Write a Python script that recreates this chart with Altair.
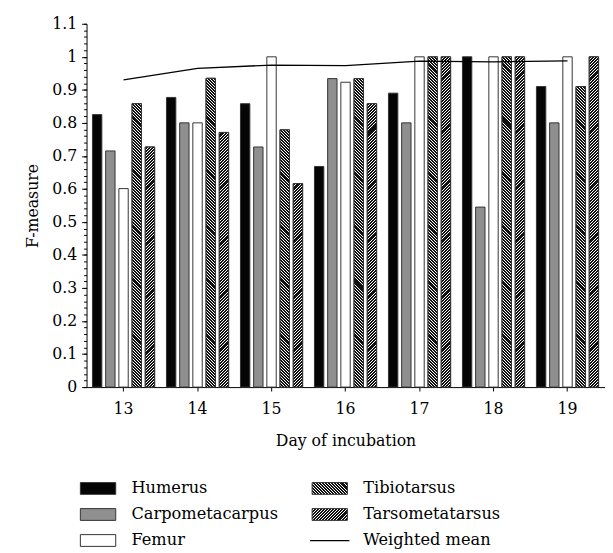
import math
import altair as alt
import pandas as pd

# ---------------- data ----------------
days = ["13", "14", "15", "16", "17", "18", "19"]
series = ["Humerus", "Carpometacarpus", "Femur", "Tibiotarsus", "Tarsometatarsus"]
humerus = [0.825, 0.877, 0.858, 0.668, 0.890, 1.000, 0.910]
carpometacarpus = [0.715, 0.800, 0.727, 0.934, 0.800, 0.545, 0.800]
femur = [0.601, 0.800, 1.000, 0.923, 1.000, 1.000, 1.000]
tibiotarsus = [0.858, 0.935, 0.779, 0.934, 1.000, 1.000, 0.910]
tarsometatarsus = [0.727, 0.771, 0.616, 0.858, 1.000, 1.000, 1.000]
weighted_mean = [0.930, 0.965, 0.975, 0.973, 0.987, 0.985, 0.988]
y_tick_values = [0, 0.1, 0.2, 0.3, 0.4, 0.5, 0.6, 0.7, 0.8, 0.9, 1.0, 1.1]
legend_names = ["Humerus", "Carpometacarpus", "Femur", "Tibiotarsus", "Tarsometatarsus", "Weighted mean"]
legend_col = [0, 0, 0, 1, 1, 1]
legend_row = [0, 1, 2, 0, 1, 2]

values_by_series = {
    "Humerus": humerus,
    "Carpometacarpus": carpometacarpus,
    "Femur": femur,
    "Tibiotarsus": tibiotarsus,
    "Tarsometatarsus": tarsometatarsus,
}
rows = []
for s in series:
    for d, v in zip(days, values_by_series[s]):
        rows.append({"day": d, "series": s, "value": v})
df = pd.DataFrame(rows)
mean_df = pd.DataFrame({"day": days, "mean": weighted_mean})
leg_df = pd.DataFrame({"name": legend_names, "col": legend_col, "row": legend_row})

# ---------------- layout / style ----------------
W, H = 527.5, 370
Y_MAX = 1.1
PX_PER_UNIT = H / Y_MAX
X_PAD_IN, X_PAD_OUT = 0.16, 0.08
XO_PAD_IN = 0.29
step_x = W / (len(days) - X_PAD_IN + 2 * X_PAD_OUT)
band_x = step_x * (1 - X_PAD_IN)
bar_w = band_x / (len(series) - XO_PAD_IN) * (1 - XO_PAD_IN)

FONT = "DejaVu Serif"
DARK = "#111111"
LIGHT = "#ffffff"
STROKE = "#333333"
PERIOD = 3.0
SEG_PX = 10 * PERIOD     # hatch drawn in short stacked pieces (keeps gradients small)
OVERLAP = 1.0

hatch_style = {"Tibiotarsus": ("back", 0.68), "Tarsometatarsus": ("fwd", 0.68)}


def hatch(w, h, frac, direction, phase):
    """Linear gradient with hard stops drawing 45-degree hatching over a w x h box."""
    L = w + h
    lam = L / (w * w + h * h)
    if direction == "back":  # '\'
        x1, y1, x2, y2 = 0, 1, lam * w, 1 - lam * h
    else:  # '/'
        x1, y1, x2, y2 = 0, 0, lam * w, lam * h
    stops = []
    m = math.floor(phase) - 1
    g_end = L / PERIOD + phase
    while m < g_end + 1:
        for a, b, col in ((m, m + frac, DARK), (m + frac, m + 1, LIGHT)):
            ta = max(0.0, (a - phase) * PERIOD)
            tb = min(L, (b - phase) * PERIOD)
            if tb > ta:
                stops.append({"offset": round(ta / L, 5), "color": col})
                stops.append({"offset": round(tb / L, 5), "color": col})
        m += 1
    return {"gradient": "linear", "x1": x1, "y1": y1, "x2": x2, "y2": y2, "stops": stops}


# split hatched bars into stacked pieces; pieces with the same size/phase share one gradient
seg_rows = []
grad_keys = {}
for s in ["Tibiotarsus", "Tarsometatarsus"]:
    direction, frac = hatch_style[s]
    for d, v in zip(days, values_by_series[s]):
        total = v * PX_PER_UNIT
        n_full = int(total // SEG_PX)
        pieces = []
        for k in range(n_full):
            pieces.append((k * SEG_PX - (OVERLAP if k > 0 else 0), (k + 1) * SEG_PX))
        if total - n_full * SEG_PX > 0.05:
            pieces.append((n_full * SEG_PX - (OVERLAP if n_full > 0 else 0), total))
        for lo, hi in pieces:
            ph = (lo / PERIOD) if direction == "back" else (-hi / PERIOD)
            ph = ph - math.floor(ph)
            key = (s, round(hi - lo, 3), round(ph, 4))
            if key not in grad_keys:
                grad_keys[key] = (len(grad_keys), hatch(bar_w, hi - lo, frac, direction, ph))
            seg_rows.append({"day": d, "series": s, "lo": lo / PX_PER_UNIT, "hi": hi / PX_PER_UNIT,
                             "gid": grad_keys[key][0]})
seg_df = pd.DataFrame(seg_rows)

y_scale = alt.Scale(domain=[0, Y_MAX], nice=False, zero=True)
x_enc = alt.X(
    "day:O",
    title="Day of incubation",
    sort=days,
    scale=alt.Scale(paddingInner=X_PAD_IN, paddingOuter=X_PAD_OUT),
    axis=alt.Axis(labelAngle=0, tickSize=4, labelPadding=10, titlePadding=16,
                  domainColor="black", tickColor="black"),
)
xo_enc = alt.XOffset("series:N", sort=series,
                     scale=alt.Scale(domain=series, paddingInner=XO_PAD_IN, paddingOuter=0))

bars = alt.Chart(df).mark_bar(stroke=STROKE, strokeWidth=1).encode(
    x=x_enc,
    xOffset=xo_enc,
    y=alt.Y("value:Q", scale=y_scale,
            axis=alt.Axis(values=y_tick_values, format=".2~f", title="F-measure", tickSize=5,
                          labelPadding=5, titlePadding=11, orient="left", grid=False,
                          domainColor="black", tickColor="black")),
    fill=alt.Fill("series:N", scale=alt.Scale(domain=series,
                  range=["#050505", "#8f8f8f", "#ffffff", "#ffffff", "#ffffff"]), legend=None),
)

hatch_layers = []
for key, (gid, grad) in grad_keys.items():
    hatch_layers.append(
        alt.Chart(seg_df)
        .transform_filter(alt.datum.gid == gid)
        .mark_bar(fill=grad, strokeWidth=0)
        .encode(x=x_enc, xOffset=xo_enc,
                y=alt.Y("lo:Q", scale=y_scale, axis=None), y2="hi:Q")
    )

outline = alt.Chart(df).transform_filter(
    alt.FieldOneOfPredicate(field="series", oneOf=["Tibiotarsus", "Tarsometatarsus"])
).mark_bar(fillOpacity=0, stroke=STROKE, strokeWidth=1).encode(
    x=x_enc, xOffset=xo_enc, y=alt.Y("value:Q", scale=y_scale, axis=None)
)

minor_ticks = [round(i * 0.02, 2) for i in range(56)]
line = alt.Chart(mean_df).mark_line(color="black", strokeWidth=1.3).encode(
    x=x_enc,
    y=alt.Y("mean:Q", scale=y_scale,
            axis=alt.Axis(values=minor_ticks, labels=False, tickSize=3, domain=False, title=None,
                          orient="left", grid=False, tickColor="black")),
)

top = alt.layer(bars, *hatch_layers, outline, line).resolve_axis(y="independent").properties(
    width=W, height=H)

# ---------------- legend ----------------
LEG_W, LEG_H = 500, 79.5
lx = alt.X("col:Q", scale=alt.Scale(domain=[-0.0496, 2.0691], nice=False, zero=False), axis=None)
ly = alt.Y("row:Q", scale=alt.Scale(domain=[-0.5, 2.5], nice=False, zero=False, reverse=True), axis=None)
RECT_PATH = "M-1,-0.3333L1,-0.3333L1,0.3333L-1,0.3333Z"

leg_solid = alt.Chart(leg_df).transform_filter(
    alt.FieldOneOfPredicate(field="name", oneOf=["Humerus", "Carpometacarpus", "Femur"])
).mark_point(shape=RECT_PATH, size=1296, filled=True, opacity=1, stroke=STROKE, strokeWidth=1).encode(
    x=lx, y=ly,
    fill=alt.Fill("name:N", scale=alt.Scale(domain=["Humerus", "Carpometacarpus", "Femur"],
                  range=["#050505", "#8f8f8f", "#ffffff"]), legend=None),
)
leg_hatch = []
for s in ["Tibiotarsus", "Tarsometatarsus"]:
    direction, frac = hatch_style[s]
    leg_hatch.append(
        alt.Chart(leg_df).transform_filter(alt.datum.name == s)
        .mark_point(shape=RECT_PATH, size=1296, filled=True, opacity=1,
                    fill=hatch(36, 12, frac, direction, 0.0), stroke=STROKE, strokeWidth=1)
        .encode(x=lx, y=ly)
    )
leg_line = alt.Chart(leg_df).transform_filter(alt.datum.name == "Weighted mean").mark_point(
    shape="M-1,0L1,0", size=1600, filled=False, opacity=1, stroke="black", strokeWidth=1.3
).encode(x=lx, y=ly)
leg_text = alt.Chart(leg_df).mark_text(align="left", baseline="middle", dx=34, font=FONT,
                                       fontSize=16.5, color="black").encode(x=lx, y=ly, text="name:N")

legend = alt.layer(leg_solid, *leg_hatch, leg_line, leg_text).properties(width=LEG_W, height=LEG_H)

chart = (
    alt.vconcat(top, legend, spacing=28)
    .properties(padding={"left": 17, "top": 3, "right": 0, "bottom": 0})
    .configure_view(stroke=None)
    .configure_axis(labelFont=FONT, titleFont=FONT, labelFontSize=16, titleFontSize=16,
                    titleFontWeight="normal", labelColor="black", titleColor="black")
)

chart.save("out.html", embed_options={"renderer": "svg", "actions": False})
